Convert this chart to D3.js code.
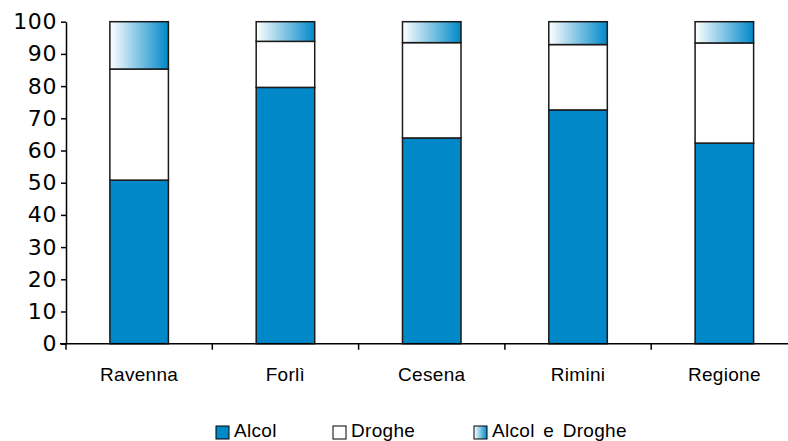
<!DOCTYPE html>
<html>
<head>
<meta charset="utf-8">
<script src="https://cdn.jsdelivr.net/npm/d3@7"></script>
<style>
  html, body { margin: 0; padding: 0; background: #fff; overflow: hidden; }
  svg { display: block; }
</style>
</head>
<body>
<svg id="chart" width="788" height="441"></svg>
<script>
// Share of treated users by substance and area (percent)
const categories = ["Ravenna", "Forlì", "Cesena", "Rimini", "Regione"];
const alcol = [50.8, 79.6, 63.9, 72.6, 62.3];
const droghe = [34.5, 14.3, 29.6, 20.3, 31.1];
const alcolDroghe = [14.7, 6.1, 6.5, 7.1, 6.6];
const seriesNames = ["Alcol", "Droghe", "Alcol e Droghe"];
const yTicks = [0, 10, 20, 30, 40, 50, 60, 70, 80, 90, 100];

const svg = d3.select("#chart");
const W = 788, H = 441;
const plotLeft = 66, plotRight = 797.5, plotTop = 21.7, plotBottom = 343.7;

const x = d3.scaleBand().domain(categories).range([plotLeft, plotRight])
  .paddingInner(0.6).paddingOuter(0.3);
const y = d3.scaleLinear().domain([0, 100]).range([plotBottom, plotTop]);

// gradient fill for the combined series
const defs = svg.append("defs");
const grad = defs.append("linearGradient").attr("id", "gradMix")
  .attr("x1", "0%").attr("x2", "100%").attr("y1", "0%").attr("y2", "0%");
grad.append("stop").attr("offset", "0%").attr("stop-color", "#ffffff");
grad.append("stop").attr("offset", "100%").attr("stop-color", "#0088c8");

const fills = ["#0088c8", "#ffffff", "url(#gradMix)"];

const rows = categories.map((c, i) => ({
  cat: c, "Alcol": alcol[i], "Droghe": droghe[i], "Alcol e Droghe": alcolDroghe[i]
}));
const stacked = d3.stack().keys(seriesNames)(rows);

const g = svg.append("g");
stacked.forEach((layer, li) => {
  g.selectAll(null).data(layer).enter().append("rect")
    .attr("x", d => x(d.data.cat))
    .attr("width", x.bandwidth())
    .attr("y", d => y(d[1]))
    .attr("height", d => y(d[0]) - y(d[1]))
    .attr("fill", fills[li])
    .attr("stroke", "#1a1a1a")
    .attr("stroke-width", 1.5);
});

// y axis
const yAxis = d3.axisLeft(y).tickValues(yTicks).tickSize(5).tickSizeOuter(0).tickPadding(4);
const ya = svg.append("g").attr("transform", `translate(${plotLeft},0)`).call(yAxis);
ya.select(".domain").attr("stroke", "#000").attr("stroke-width", 1.5);
ya.selectAll(".tick line").attr("stroke", "#000").attr("stroke-width", 1.5);
ya.selectAll(".tick text")
  .attr("fill", "#000")
  .style("font-family", "'DejaVu Sans', sans-serif")
  .style("font-size", "22px")
  .style("letter-spacing", "0.6px");

// x axis with ticks at category boundaries
const step = x.step();
const boundaries = categories.map(c => x(c) + x.bandwidth() / 2 - step / 2);
boundaries.push(plotRight);
const xa = svg.append("g");
xa.append("line").attr("x1", plotLeft - 6).attr("x2", W).attr("y1", plotBottom).attr("y2", plotBottom)
  .attr("stroke", "#000").attr("stroke-width", 1.5);
xa.selectAll(null).data(boundaries).enter().append("line")
  .attr("x1", d => d).attr("x2", d => d)
  .attr("y1", plotBottom).attr("y2", plotBottom + 6)
  .attr("stroke", "#000").attr("stroke-width", 1.5);
xa.selectAll(null).data(categories).enter().append("text")
  .attr("x", d => x(d) + x.bandwidth() / 2)
  .attr("y", 381)
  .attr("text-anchor", "middle")
  .style("font-family", "'Liberation Sans', Arial, sans-serif")
  .style("font-size", "19px")
  .style("letter-spacing", "0.3px")
  .attr("fill", "#000")
  .text(d => d);

// legend
const legendX = [216, 333, 474];
const lg = svg.append("g");
seriesNames.forEach((name, i) => {
  lg.append("rect")
    .attr("x", legendX[i]).attr("y", 426)
    .attr("width", 13).attr("height", 13)
    .attr("fill", fills[i])
    .attr("stroke", "#000").attr("stroke-width", 1);
  lg.append("text")
    .attr("x", legendX[i] + 18).attr("y", 437)
    .style("font-family", "'Liberation Sans', Arial, sans-serif")
    .style("font-size", "19px")
    .style("letter-spacing", "0.3px")
    .style("word-spacing", "3px")
    .attr("fill", "#000")
    .text(name);
});
</script>
</body>
</html>
